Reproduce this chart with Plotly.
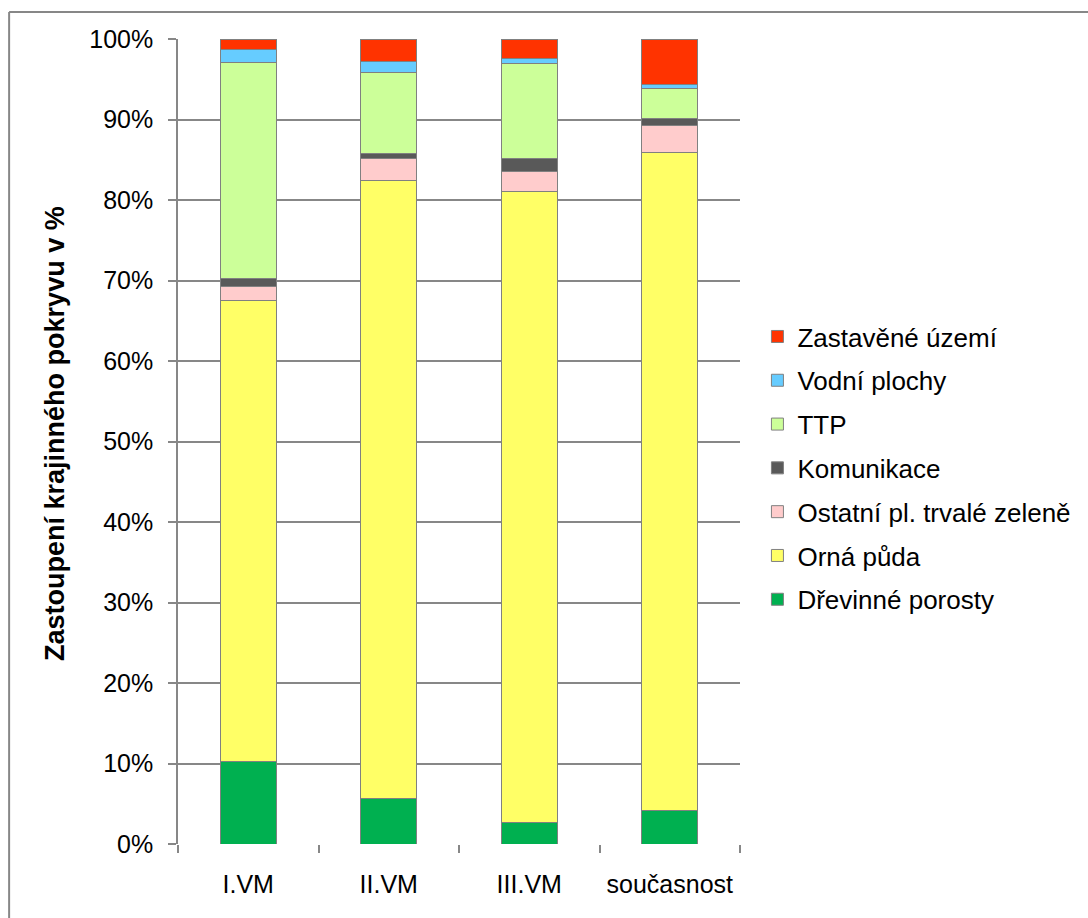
import plotly.graph_objects as go

# Landscape cover composition by period (share of area, %)
periods = ["I.VM", "II.VM", "III.VM", "současnost"]

drevinne_porosty = [10.3, 5.7, 2.7, 4.15]
orna_puda = [57.2, 76.7, 78.3, 81.75]
ostatni_zelen = [1.8, 2.7, 2.55, 3.4]
komunikace = [0.95, 0.7, 1.65, 0.8]
ttp = [26.85, 10.1, 11.7, 3.7]
vodni_plochy = [1.6, 1.3, 0.65, 0.5]
zastavene_uzemi = [1.3, 2.8, 2.45, 5.7]

y_ticks = [0, 10, 20, 30, 40, 50, 60, 70, 80, 90, 100]
y_tick_labels = ["0%", "10%", "20%", "30%", "40%", "50%", "60%", "70%", "80%", "90%", "100%"]

series = [
    ("Dřevinné porosty", drevinne_porosty, "#00B050"),
    ("Orná půda", orna_puda, "#FFFF66"),
    ("Ostatní pl. trvalé zeleně", ostatni_zelen, "#FFCCCC"),
    ("Komunikace", komunikace, "#595959"),
    ("TTP", ttp, "#CCFF99"),
    ("Vodní plochy", vodni_plochy, "#66CCFF"),
    ("Zastavěné území", zastavene_uzemi, "#FF3300"),
]

FONT = "Liberation Sans, Arial, sans-serif"
GREY = "#878787"

fig = go.Figure()
for i, (name, vals, color) in enumerate(series):
    fig.add_trace(go.Bar(
        x=periods, y=vals, name=name, legendgroup=name,
        legendrank=100 - i,  # top stack segment listed first
        width=0.4,
        marker=dict(color=color, line=dict(color="#808080", width=1)),
    ))

fig.update_layout(
    barmode="stack",
    width=1088, height=918,
    margin=dict(l=178, r=346, t=39, b=74),
    paper_bgcolor="white", plot_bgcolor="white",
    font=dict(family=FONT, size=25, color="black"),
    showlegend=True,
    legend=dict(
        x=1.031, y=0.467, xanchor="left", yanchor="middle",
        traceorder="grouped", tracegroupgap=7,
        font=dict(family=FONT, size=26, color="black"),
        bgcolor="rgba(0,0,0,0)",
    ),
    xaxis=dict(
        showline=False, showgrid=False,
        ticks="outside", tickson="boundaries", ticklen=8, tickcolor=GREY, tickwidth=1.5,
        tickfont=dict(family=FONT, size=25, color="black"),
        ticklabelstandoff=23,
    ),
    yaxis=dict(
        range=[0, 100], tickvals=y_ticks, ticktext=y_tick_labels,
        showline=True, linecolor=GREY, linewidth=1.5,
        showgrid=True, gridcolor=GREY, gridwidth=1.5,
        ticks="outside", ticklen=8, tickcolor=GREY, tickwidth=1.5,
        tickfont=dict(family=FONT, size=25, color="black"),
        ticklabelstandoff=10,
        zeroline=False,
    ),
    annotations=[dict(
        text="<b>Zastoupení krajinného pokryvu v %</b>",
        xref="paper", yref="paper", x=-0.218, y=0.51,
        xanchor="center", yanchor="middle", textangle=-90, showarrow=False,
        font=dict(family=FONT, size=27, color="black"),
    )],
    shapes=[
        # chart frame (top and left edges)
        dict(type="line", xref="paper", yref="paper", x0=-0.3005, x1=2.0, y0=1.0335, y1=1.0335,
             line=dict(color=GREY, width=2)),
        dict(type="line", xref="paper", yref="paper", x0=-0.3005, x1=-0.3005, y0=-0.2, y1=1.0335,
             line=dict(color=GREY, width=2)),
    ],
)

fig.write_html("out.html")
